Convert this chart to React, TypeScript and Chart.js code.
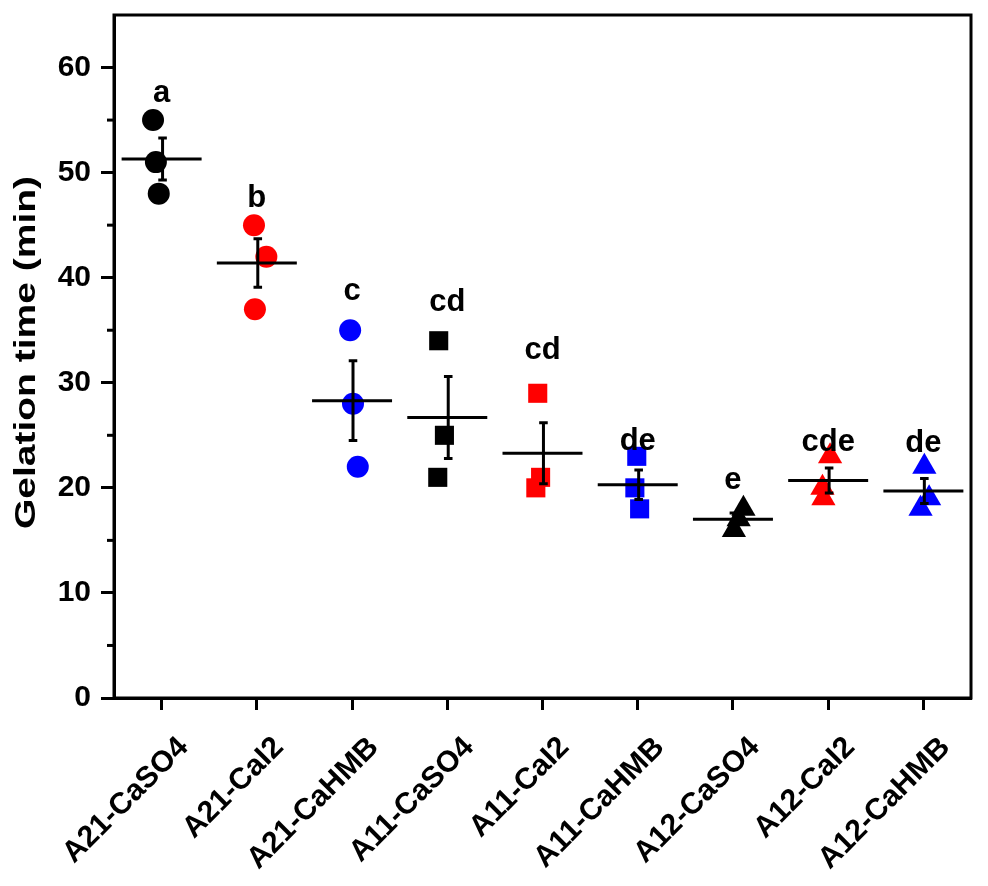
import React, { useEffect, useRef } from 'react';
import { Chart, registerables } from 'chart.js';

Chart.register(...registerables);

// ---- data ----
const categories = [
  'A21-CaSO4', 'A21-CaI2', 'A21-CaHMB',
  'A11-CaSO4', 'A11-CaI2', 'A11-CaHMB',
  'A12-CaSO4', 'A12-CaI2', 'A12-CaHMB',
];
const rep1 = [55, 45, 35, 34, 29, 23, 18, 23, 22];
const rep2 = [51, 42, 28, 25, 21, 20, 17, 20, 19];
const rep3 = [48, 37, 22, 21, 20, 18, 16, 19, 18];
const means = [51.3, 41.4, 28.3, 26.7, 23.3, 20.3, 17.0, 20.7, 19.7];
const errors = [2.0, 2.3, 3.8, 3.9, 2.9, 1.4, 0.6, 1.2, 1.2];
const letters = ['a', 'b', 'c', 'cd', 'cd', 'de', 'e', 'cde', 'de'];
const letterY = [57.5, 47.5, 38.7, 37.6, 33.1, 24.4, 20.7, 24.3, 24.2];
const yTicks = [0, 10, 20, 30, 40, 50, 60];
const yMinorTicks = [5, 15, 25, 35, 45, 55];
const yTitle = 'Gelation time (min)';

// horizontal jitter of replicate points (category units)
const jitter1 = [-0.09, -0.03, -0.02, -0.09, -0.05, -0.01, 0.11, 0.02, 0.01];
const jitter2 = [-0.06, 0.10, 0.01, -0.03, -0.02, -0.03, 0.06, -0.06, 0.06];
const jitter3 = [-0.03, -0.02, 0.06, -0.10, -0.07, 0.02, 0.01, -0.05, -0.03];

const BLACK = '#000000';
const RED = '#ff0000';
const BLUE = '#0000ff';
const groupColors = [BLACK, RED, BLUE, BLACK, RED, BLUE, BLACK, RED, BLUE];
const groupShapes = ['circle', 'circle', 'circle', 'rect', 'rect', 'rect', 'triangle', 'triangle', 'triangle'];
const shapeRadius: Record<string, number> = { circle: 11, rect: 13.5, triangle: 14 };

const FONT = 'Arial, "Liberation Sans", Helvetica, sans-serif';

export default function App() {
  const ref = useRef<HTMLCanvasElement | null>(null);

  useEffect(() => {
    if (!ref.current) return;

    const points: any[] = [];
    const pColors: string[] = [];
    const pShapes: string[] = [];
    const pRadius: number[] = [];
    const reps = [rep1, rep2, rep3];
    const jits = [jitter1, jitter2, jitter3];
    categories.forEach((_, i) => {
      reps.forEach((rep, r) => {
        points.push({ x: i + jits[r][i], y: rep[i] });
        pColors.push(groupColors[i]);
        pShapes.push(groupShapes[i]);
        pRadius.push(shapeRadius[groupShapes[i]]);
      });
    });

    const meanLines: any[] = [];
    const errLines: any[] = [];
    categories.forEach((_, i) => {
      const m = means[i];
      const e = errors[i];
      meanLines.push({ x: i - 0.42, y: m }, { x: i + 0.42, y: m }, { x: i, y: null });
      const ex = i + 0.01;
      errLines.push({ x: ex, y: m - e }, { x: ex, y: m + e }, { x: ex, y: null });
      errLines.push({ x: ex - 0.045, y: m + e }, { x: ex + 0.045, y: m + e }, { x: ex, y: null });
      errLines.push({ x: ex - 0.045, y: m - e }, { x: ex + 0.045, y: m - e }, { x: ex, y: null });
    });

    const extras = {
      id: 'extras',
      afterDatasetsDraw(chart: any) {
        const { ctx, scales } = chart;
        ctx.save();
        ctx.fillStyle = BLACK;
        ctx.font = `bold 31px ${FONT}`;
        ctx.textAlign = 'center';
        ctx.textBaseline = 'middle';
        letters.forEach((t, i) => {
          ctx.fillText(t, scales.x.getPixelForValue(i), scales.y.getPixelForValue(letterY[i]));
        });
        ctx.restore();
      },
      afterDraw(chart: any) {
        const { ctx, chartArea: a, scales } = chart;
        ctx.save();
        ctx.strokeStyle = BLACK;
        ctx.lineWidth = 3;
        ctx.strokeRect(a.left, a.top, a.right - a.left, a.bottom - a.top);
        yMinorTicks.forEach((v) => {
          const py = scales.y.getPixelForValue(v);
          ctx.beginPath();
          ctx.moveTo(a.left - 7, py);
          ctx.lineTo(a.left, py);
          ctx.stroke();
        });
        ctx.restore();

        // y-axis title (drawn slightly elongated along its length like the reference)
        ctx.save();
        ctx.fillStyle = BLACK;
        ctx.font = `bold 30px ${FONT}`;
        ctx.textAlign = 'center';
        ctx.textBaseline = 'middle';
        ctx.translate(27, (a.top + a.bottom) / 2 - 4);
        ctx.rotate(-Math.PI / 2);
        ctx.scale(1.3, 1);
        ctx.fillText(yTitle, 0, 0);
        ctx.restore();
      },
    };

    const chart = new Chart(ref.current, {
      type: 'scatter',
      data: {
        datasets: [
          {
            label: 'mean',
            data: meanLines,
            showLine: true,
            spanGaps: false,
            borderColor: BLACK,
            borderWidth: 3,
            pointRadius: 0,
            order: 0,
          } as any,
          {
            label: 'se',
            data: errLines,
            showLine: true,
            spanGaps: false,
            borderColor: BLACK,
            borderWidth: 3,
            pointRadius: 0,
            order: 0,
          } as any,
          {
            label: 'points',
            data: points,
            showLine: false,
            backgroundColor: pColors,
            borderColor: pColors,
            borderWidth: 0,
            pointStyle: pShapes as any,
            pointRadius: pRadius,
            order: 1,
          } as any,
        ],
      },
      options: {
        responsive: false,
        animation: false,
        events: [],
        layout: { padding: { left: 0, top: 15, right: 17, bottom: 0 } },
        plugins: {
          legend: { display: false },
          tooltip: { enabled: false },
        },
        scales: {
          x: {
            type: 'linear',
            min: -0.5,
            max: 8.5,
            afterBuildTicks: (scale: any) => {
              scale.ticks = categories.map((_, i) => ({ value: i }));
            },
            afterFit: (scale: any) => {
              scale.height = 886 - 698;
            },
            grid: {
              drawOnChartArea: false,
              drawTicks: true,
              tickLength: 12,
              tickWidth: 3,
              tickColor: BLACK,
            },
            border: { display: true, color: BLACK, width: 3 },
            ticks: {
              autoSkip: false,
              maxRotation: 45,
              minRotation: 45,
              labelOffset: 22,
              padding: 20,
              color: BLACK,
              font: { family: FONT, size: 30, weight: 'bold' },
              callback: (v: any) => categories[Math.round(Number(v))] ?? '',
            },
          },
          y: {
            type: 'linear',
            min: 0,
            max: 65,
            afterBuildTicks: (scale: any) => {
              scale.ticks = yTicks.map((v) => ({ value: v }));
            },
            afterFit: (scale: any) => {
              scale.width = 114;
              scale.paddingTop = 0;
              scale.paddingBottom = 0;
            },
            grid: {
              drawOnChartArea: false,
              drawTicks: true,
              tickLength: 13,
              tickWidth: 3,
              tickColor: BLACK,
            },
            border: { display: true, color: BLACK, width: 3 },
            ticks: {
              padding: 10,
              color: BLACK,
              font: { family: FONT, size: 30, weight: 'bold' },
            },
            title: { display: false },
          },
        },
      },
      plugins: [extras],
    });

    return () => chart.destroy();
  }, []);

  return (
    <div style={{ position: 'absolute', left: 0, top: 0, width: 988, height: 886, background: '#ffffff' }}>
      <canvas ref={ref} width={988} height={886} style={{ display: 'block' }} />
    </div>
  );
}
